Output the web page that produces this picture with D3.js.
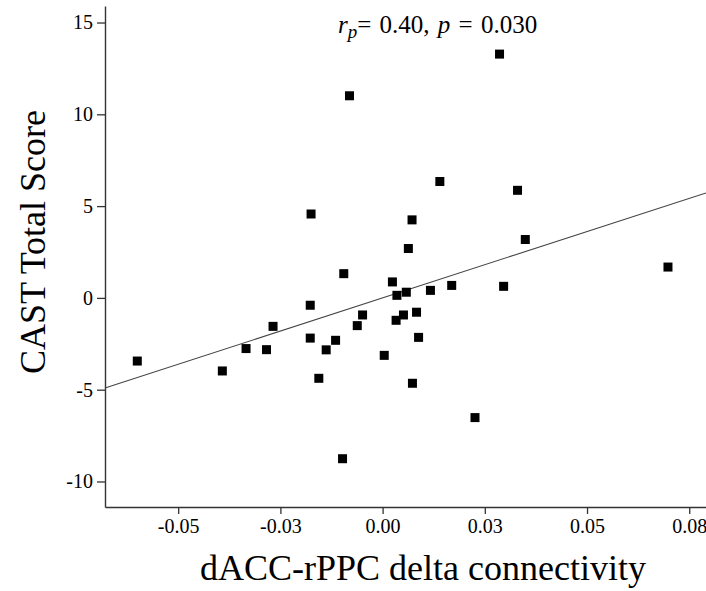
<!DOCTYPE html>
<html>
<head>
<meta charset="utf-8">
<script src="https://cdn.jsdelivr.net/npm/d3@7"></script>
<style>
  body { margin: 0; background: #fff; }
  text { font-family: "Liberation Serif", "Times New Roman", serif; }
</style>
</head>
<body>
<div class="chart"></div>
<script>
// connectivity change (x) vs CAST total score (y)
const connectivity = [
  -0.0600, -0.0392, -0.0334, -0.0284, -0.0268, -0.0177, -0.0177, -0.0156, -0.0138,
  -0.0115, -0.0098, -0.0062, -0.0049, -0.0095, -0.0081, -0.0175, 0.0004, 0.0024,
  0.0035, 0.0033, 0.0051, 0.0058, 0.0063, 0.0072, 0.0073, 0.0083, 0.0088,
  0.0117, 0.0140, 0.0169, 0.0226, 0.0286, 0.0296, 0.0330, 0.0349, 0.0698
];
const castScore = [
  -3.44, -3.98, -2.76, -2.82, -1.55, -0.40, -2.19, -4.38, -2.83,
  -2.31, -8.76, -1.51, -0.93, 1.32, 11.01, 4.57, -3.13, 0.87,
  0.14, -1.22, -0.93, 0.31, 2.69, 4.25, -4.65, -0.78, -2.15,
  0.41, 6.34, 0.68, -6.52, 13.28, 0.63, 5.86, 3.18, 1.68
];

// fitted line (intercept, slope)
const fitLine = [0.0, 72.3];

const xTicks = [-0.05, -0.025, 0, 0.025, 0.05, 0.075];
const xTickLabels = ["-0.05", "-0.03", "0.00", "0.03", "0.05", "0.08"];
const yTicks = [15, 10, 5, 0, -5, -10];
const yTickLabels = ["15", "10", "5", "0", "-5", "-10"];

const width = 706, height = 591;
const plotLeft = 105, plotRight = 706, plotTop = 6, plotBottom = 507;
const serif = "'Liberation Serif', 'Times New Roman', serif";

const svg = d3.select("div.chart")
  .append("svg")
  .attr("width", width)
  .attr("height", height);

const x = d3.scaleLinear().domain([-0.0679, 0.0791]).range([plotLeft, plotRight]);
const y = d3.scaleLinear().domain([-11.39, 15.9]).range([plotBottom, plotTop]);

const axisColor = "#333";

// y axis
let gy = svg.append("g")
  .attr("transform", `translate(${plotLeft},0)`)
  .call(d3.axisLeft(y)
    .tickValues(yTicks)
    .tickFormat((d, i) => yTickLabels[i])
    .tickSize(8)
    .tickPadding(4)
    .tickSizeOuter(0));
gy.attr("font-family", serif);
gy.select(".domain").attr("stroke", axisColor).attr("stroke-width", 1.4);
gy.selectAll(".tick line").attr("stroke", axisColor).attr("stroke-width", 1.3);
gy.selectAll(".tick text")
  .style("font-family", serif)
  .style("font-size", "20px")
  .attr("fill", "#000");

// x axis
let gx = svg.append("g")
  .attr("transform", `translate(0,${plotBottom})`)
  .call(d3.axisBottom(x)
    .tickValues(xTicks)
    .tickFormat((d, i) => xTickLabels[i])
    .tickSize(7)
    .tickPadding(5)
    .tickSizeOuter(0));
gx.attr("font-family", serif);
gx.select(".domain").attr("stroke", axisColor).attr("stroke-width", 1.4);
gx.selectAll(".tick line").attr("stroke", axisColor).attr("stroke-width", 1.3);
gx.selectAll(".tick text")
  .style("font-family", serif)
  .style("font-size", "20px")
  .attr("fill", "#000");

// regression line across the whole x range
const xd = x.domain();
svg.append("line")
  .attr("x1", x(xd[0]))
  .attr("y1", y(fitLine[0] + fitLine[1] * xd[0]))
  .attr("x2", x(xd[1]))
  .attr("y2", y(fitLine[0] + fitLine[1] * xd[1]))
  .attr("stroke", "#444")
  .attr("stroke-width", 1.1);

// points
const pts = connectivity.map((d, i) => ({ x: d, y: castScore[i] }));
const sz = 9;
svg.append("g")
  .selectAll("rect")
  .data(pts)
  .enter()
  .append("rect")
  .attr("x", d => x(d.x) - sz / 2)
  .attr("y", d => y(d.y) - sz / 2)
  .attr("width", sz)
  .attr("height", sz)
  .attr("fill", "#000");

// axis titles
svg.append("text")
  .attr("x", 423)
  .attr("y", 580)
  .attr("text-anchor", "middle")
  .attr("font-size", 36)
  .text("dACC-rPPC delta connectivity");

svg.append("text")
  .attr("transform", "translate(45,242) rotate(-90)")
  .attr("text-anchor", "middle")
  .attr("font-size", 36)
  .text("CAST Total Score");

// correlation note
let note = svg.append("text")
  .attr("x", 338)
  .attr("y", 33)
  .attr("font-size", 25)
  .attr("word-spacing", 2);
note.append("tspan").attr("font-style", "italic").text("r");
note.append("tspan").attr("font-style", "italic").attr("font-size", 19).attr("dy", 5).text("p");
note.append("tspan").attr("dy", -5).text("= 0.40, ");
note.append("tspan").attr("font-style", "italic").text("p");
note.append("tspan").text(" = 0.030");
</script>
</body>
</html>
